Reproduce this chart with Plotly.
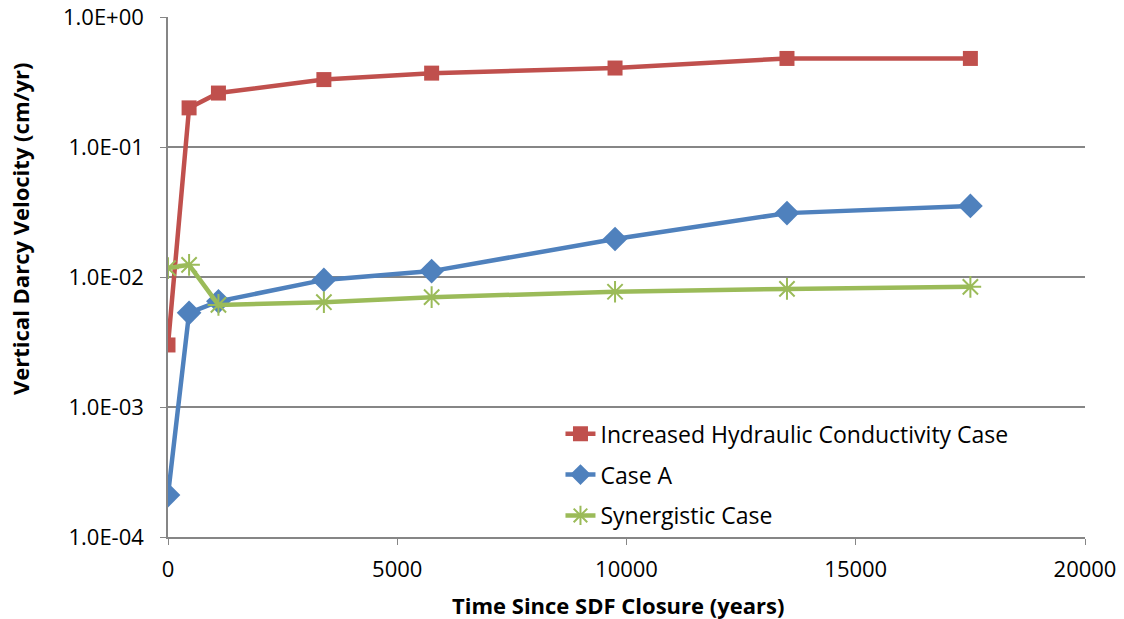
import plotly.graph_objects as go

years = [0, 460, 1100, 3400, 5750, 9750, 13500, 17500]
increased_k = [0.0030, 0.20, 0.26, 0.33, 0.37, 0.405, 0.48, 0.48]
case_a = [0.00021, 0.0053, 0.0065, 0.0095, 0.0111, 0.0196, 0.031, 0.0352]
synergistic = [0.0117, 0.0124, 0.0061, 0.0064, 0.0070, 0.0077, 0.0081, 0.0084]

y_tickvals = [1e-4, 1e-3, 1e-2, 1e-1, 1]
y_ticktext = ["1.0E-04", "1.0E-03", "1.0E-02", "1.0E-01", "1.0E+00"]
x_tickvals = [0, 5000, 10000, 15000, 20000]

FONT = "Open Sans"

fig = go.Figure()
fig.add_trace(go.Scatter(
    x=years, y=increased_k, mode="lines+markers",
    name="Increased Hydraulic Conductivity Case", legendgroup="a",
    line=dict(color="#C0504D", width=4.5),
    marker=dict(symbol="square", size=15, color="#C0504D"),
))
fig.add_trace(go.Scatter(
    x=years, y=case_a, mode="lines+markers",
    name="Case A", legendgroup="b",
    line=dict(color="#4F81BD", width=4.5),
    marker=dict(symbol="diamond", size=19, color="#4F81BD"),
))
fig.add_trace(go.Scatter(
    x=years, y=synergistic, mode="lines+markers",
    name="Synergistic Case", legendgroup="c",
    line=dict(color="#9BBB59", width=4.5),
    marker=dict(symbol="asterisk-open", size=18, color="#9BBB59",
                line=dict(color="#9BBB59", width=2)),
))

fig.update_layout(
    width=1124, height=619,
    margin=dict(l=168, r=39, t=17, b=82),
    plot_bgcolor="white", paper_bgcolor="white",
    font=dict(family=FONT, size=22, color="black"),
    legend=dict(x=0.428, y=0.24, xanchor="left", yanchor="top",
                bgcolor="rgba(255,255,255,0)", font=dict(size=23, family=FONT),
                tracegroupgap=8, traceorder="grouped"),
    xaxis=dict(
        range=[0, 20000], tickvals=x_tickvals, ticktext=[str(v) for v in x_tickvals],
        showgrid=False, zeroline=False, showline=True, linecolor="#868686", linewidth=1.5,
        ticks="outside", ticklen=6, tickcolor="#868686", ticklabelstandoff=6,
        automargin=False,
    ),
    yaxis=dict(
        type="log", range=[-4, 0], tickvals=y_tickvals, ticktext=y_ticktext,
        showgrid=True, gridcolor="#868686", gridwidth=1.5,
        zeroline=False, showline=True, linecolor="#868686", linewidth=1.5,
        ticks="outside", ticklen=6, tickcolor="#868686", ticklabelstandoff=12,
        automargin=False,
    ),
    annotations=[
        dict(
            text="<b>Vertical Darcy Velocity (cm/yr)</b>", textangle=-90,
            xref="paper", yref="paper", x=(20 - 168) / 917, y=(537 - 229) / 520,
            xanchor="center", yanchor="middle", showarrow=False,
            font=dict(size=22, family=FONT),
        ),
        dict(
            text="<b>Time Since SDF Closure (years)</b>",
            xref="paper", yref="paper", x=(618 - 168) / 917, y=(537 - 605) / 520,
            xanchor="center", yanchor="middle", showarrow=False,
            font=dict(size=22, family=FONT),
        ),
    ],
)

fig.write_html("out.html")
